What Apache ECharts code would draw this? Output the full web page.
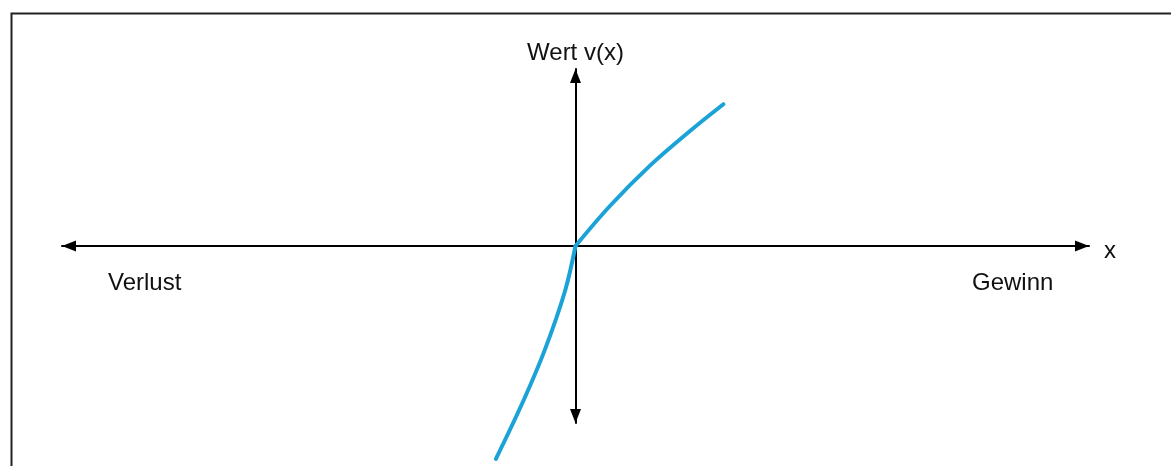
<!DOCTYPE html>
<html>
<head>
<meta charset="utf-8">
<script src="https://cdn.jsdelivr.net/npm/echarts@6/dist/echarts.min.js"></script>
<style>
html,body{margin:0;padding:0;background:#fff;}
#chart{width:1171px;height:466px;}
</style>
</head>
<body>
<div id="chart"></div>
<script>
// Wertfunktion (Prospect Theory)
var gainX = [0, 6.7, 14.5, 22.3, 28.8];
var gainV = [0, 22.6, 45.4, 65.0, 80.1];
var lossX = [0, -2.04, -5.94, -10.17, -15.5];
var lossV = [0, -25.4, -58.4, -87.6, -120.3];
var xName = 'x';
var yName = 'Wert v(x)';
var lossLabel = 'Verlust';
var gainLabel = 'Gewinn';

function zip(a, b){ var r = []; for (var i = 0; i < a.length; i++) r.push([a[i], b[i]]); return r; }

var font = 'Liberation Sans, Arial, sans-serif';
var axisBase = {
    type: 'value', min: -100, max: 100,
    axisLine: {show: true, onZero: true, symbol: ['triangle', 'triangle'], symbolSize: [11, 14],
        symbolOffset: [7, -7], lineStyle: {color: '#000', width: 2}},
    axisTick: {show: false}, axisLabel: {show: false}, splitLine: {show: false}
};
var curve = {
    type: 'line', smooth: 0.35, showSymbol: false, clip: false,
    lineStyle: {color: '#1ba3d8', width: 4, cap: 'round'}, z: 5
};

var chart = echarts.init(document.getElementById('chart'));
chart.setOption({
    animation: false,
    grid: {left: 62, right: 82, top: 69, bottom: 43},
    xAxis: axisBase,
    yAxis: echarts.util.merge({name: yName, nameLocation: 'end', nameGap: 4,
        nameTextStyle: {fontFamily: font, fontSize: 24, color: '#111'}}, axisBase),
    graphic: [
        {type: 'rect', left: 9, top: 11, shape: {width: 1200, height: 500},
            style: {fill: 'none', stroke: '#222', lineWidth: 2}, z: 0},
        {type: 'text', left: 1104, top: 239, style: {text: xName, font: '24px ' + font, fill: '#111'}},
        {type: 'text', left: 108, top: 271, style: {text: lossLabel, font: '24px ' + font, fill: '#111'}},
        {type: 'text', left: 972, top: 271, style: {text: gainLabel, font: '24px ' + font, fill: '#111'}}
    ],
    series: [
        echarts.util.merge({data: zip(gainX, gainV)}, curve),
        echarts.util.merge({data: zip(lossX, lossV)}, curve)
    ]
});
</script>
</body>
</html>
